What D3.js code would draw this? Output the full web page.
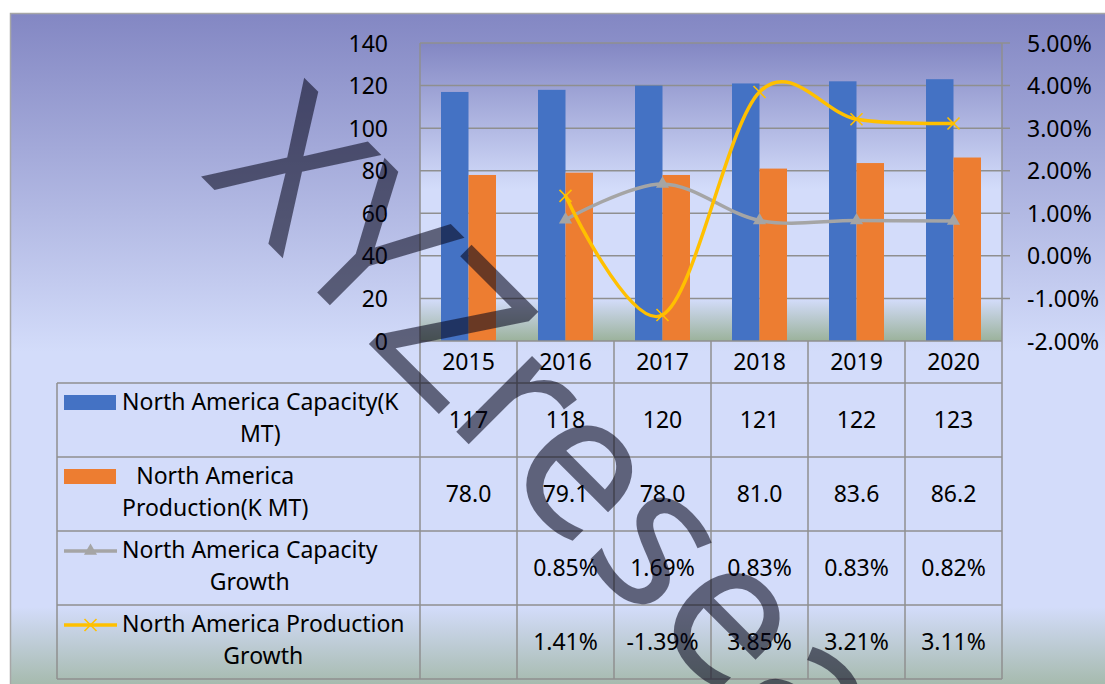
<!DOCTYPE html>
<html>
<head>
<meta charset="utf-8">
<script src="https://cdn.jsdelivr.net/npm/d3@7/dist/d3.min.js"></script>
<style>
  html, body { margin: 0; padding: 0; background: #ffffff; }
  svg { display: block; }
  text { font-family: "Noto Sans", "Open Sans", sans-serif; }
</style>
</head>
<body>
<svg id="chart" width="1105" height="684"></svg>
<script>
// ---------------- DATA ----------------
const years = ["2015", "2016", "2017", "2018", "2019", "2020"];
const capacity = [117, 118, 120, 121, 122, 123];
const production = [78.0, 79.1, 78.0, 81.0, 83.6, 86.2];
const capacityGrowth = [null, 0.0085, 0.0169, 0.0083, 0.0083, 0.0082];
const productionGrowth = [null, 0.0141, -0.0139, 0.0385, 0.0321, 0.0311];
const leftTicks = [0, 20, 40, 60, 80, 100, 120, 140];
const rightTicks = [-0.02, -0.01, 0, 0.01, 0.02, 0.03, 0.04, 0.05];
const seriesLabels = [
  ["North America Capacity(K", "MT)"],
  ["North America", "Production(K MT)"],
  ["North America Capacity", "Growth"],
  ["North America Production", "Growth"]
];
const watermarkText = "XYZresearch";

// ---------------- LAYOUT ----------------
const W = 1105, H = 684;
const plot = { left: 420, right: 1002, top: 43, bottom: 341 };
const tableRows = [383, 457, 531, 605, 679];
const tableLeft = 57;
const FS = 23;
const colors = { cap: "#4472c4", prod: "#ed7d31", capG: "#a5a5a5", prodG: "#ffc000" };
const gridColor = "#8f8f8f";

const svg = d3.select("#chart");
const defs = svg.append("defs");

function addGrad(id) {
  const g = defs.append("linearGradient").attr("id", id)
    .attr("x1", 0).attr("y1", 0).attr("x2", 0).attr("y2", 1);
  [[0, "#8387c3"], [0.49, "#d3dcfa"], [0.86, "#d3dcfa"], [1, "#9bb29b"]]
    .forEach(([o, c]) => g.append("stop").attr("offset", o).attr("stop-color", c));
}
addGrad("outerGrad");
addGrad("plotGrad");

// chart area
svg.append("rect").attr("x", 10.5).attr("y", 13.5).attr("width", 1100).attr("height", 690)
  .attr("fill", "url(#outerGrad)").attr("stroke", "#a6a6a6").attr("stroke-width", 1.5);

// plot area
svg.append("rect").attr("x", plot.left).attr("y", plot.top)
  .attr("width", plot.right - plot.left).attr("height", plot.bottom - plot.top)
  .attr("fill", "url(#plotGrad)");

// scales
const x = d3.scaleBand().domain(years).range([plot.left, plot.right]).paddingInner(0).paddingOuter(0);
const groupW = x.bandwidth() * 0.567;
const x1 = d3.scaleBand().domain(["cap", "prod"]).range([0, groupW]);
const yL = d3.scaleLinear().domain([0, 140]).range([plot.bottom, plot.top]);
const yR = d3.scaleLinear().domain([-0.02, 0.05]).range([plot.bottom, plot.top]);
const cx = d => x(d) + x.bandwidth() / 2;

// gridlines
svg.append("g").selectAll("line").data(leftTicks.filter(t => t > 0)).join("line")
  .attr("x1", plot.left).attr("x2", plot.right + 8)
  .attr("y1", d => yL(d)).attr("y2", d => yL(d))
  .attr("stroke", gridColor).attr("stroke-width", 1.5);

// plot verticals
svg.append("line").attr("x1", plot.left).attr("x2", plot.left).attr("y1", plot.top).attr("y2", plot.bottom)
  .attr("stroke", gridColor).attr("stroke-width", 1.5);
svg.append("line").attr("x1", plot.right).attr("x2", plot.right).attr("y1", plot.top).attr("y2", plot.bottom)
  .attr("stroke", gridColor).attr("stroke-width", 1.5);

// left axis labels
const leftAxis = d3.axisLeft(yL).tickValues(leftTicks).tickSize(0).tickPadding(0).tickFormat(d3.format("d"));
const gL = svg.append("g").attr("transform", `translate(388,0)`).call(leftAxis);
gL.select(".domain").remove();
gL.selectAll("text").attr("font-size", FS).attr("fill", "#000").attr("font-family", "Noto Sans").attr("dy", "0.35em").attr("x", 0);

// right axis labels
const rightAxis = d3.axisRight(yR).tickValues(rightTicks).tickSize(0).tickPadding(0).tickFormat(d3.format(".2%"));
const gR = svg.append("g").attr("transform", `translate(1027,0)`).call(rightAxis);
gR.select(".domain").remove();
gR.selectAll("text").attr("font-size", FS).attr("fill", "#000").attr("font-family", "Noto Sans").attr("dy", "0.35em").attr("x", 0)
  .text(d => d3.format(".2%")(d).replace("−", "-"));

// bars
const barG = svg.append("g");
barG.selectAll("rect.cap").data(years).join("rect").attr("class", "cap")
  .attr("x", (d) => cx(d) - groupW / 2 + x1("cap"))
  .attr("width", x1.bandwidth())
  .attr("y", (d, i) => yL(capacity[i]))
  .attr("height", (d, i) => yL(0) - yL(capacity[i]))
  .attr("fill", colors.cap);
barG.selectAll("rect.prod").data(years).join("rect").attr("class", "prod")
  .attr("x", (d) => cx(d) - groupW / 2 + x1("prod"))
  .attr("width", x1.bandwidth())
  .attr("y", (d, i) => yL(production[i]))
  .attr("height", (d, i) => yL(0) - yL(production[i]))
  .attr("fill", colors.prod);

// lines
const line = d3.line().defined(d => d[1] != null).x(d => cx(d[0])).y(d => yR(d[1])).curve(d3.curveCardinal.tension(0));
const capPts = years.map((y, i) => [y, capacityGrowth[i]]);
const prodPts = years.map((y, i) => [y, productionGrowth[i]]);
svg.append("path").datum(capPts).attr("d", line).attr("fill", "none").attr("stroke", colors.capG).attr("stroke-width", 3.5).attr("stroke-linecap", "round");
svg.append("path").datum(prodPts).attr("d", line).attr("fill", "none").attr("stroke", colors.prodG).attr("stroke-width", 3.5).attr("stroke-linecap", "round");

const tri = d3.symbol().type(d3.symbolTriangle).size(75);
svg.append("g").selectAll("path").data(capPts.filter(d => d[1] != null)).join("path")
  .attr("d", tri).attr("transform", d => `translate(${cx(d[0])},${yR(d[1])})`).attr("fill", colors.capG);
const xs = 6;
const xg = svg.append("g");
prodPts.filter(d => d[1] != null).forEach(d => {
  const px = cx(d[0]), py = yR(d[1]);
  xg.append("path").attr("d", `M${px - xs},${py - xs}L${px + xs},${py + xs}M${px - xs},${py + xs}L${px + xs},${py - xs}`)
    .attr("stroke", colors.prodG).attr("stroke-width", 1.6).attr("fill", "none");
});

// axis line
svg.append("line").attr("x1", plot.left).attr("x2", plot.right).attr("y1", plot.bottom).attr("y2", plot.bottom)
  .attr("stroke", gridColor).attr("stroke-width", 1.5);

// ---------------- DATA TABLE ----------------
const tbl = svg.append("g");
// horizontal lines
tbl.selectAll("line.h").data(tableRows).join("line").attr("class", "h")
  .attr("x1", tableLeft).attr("x2", plot.right).attr("y1", d => d).attr("y2", d => d)
  .attr("stroke", gridColor).attr("stroke-width", 1.5);
// vertical lines at column boundaries
const bounds = years.map(y => x(y)).concat([plot.right]);
tbl.selectAll("line.v").data(bounds).join("line").attr("class", "v")
  .attr("x1", d => d).attr("x2", d => d).attr("y1", plot.bottom).attr("y2", tableRows[4])
  .attr("stroke", gridColor).attr("stroke-width", 1.5);
tbl.append("line").attr("x1", tableLeft).attr("x2", tableLeft).attr("y1", tableRows[0]).attr("y2", tableRows[4])
  .attr("stroke", gridColor).attr("stroke-width", 1.5);

// header years
tbl.selectAll("text.yr").data(years).join("text").attr("class", "yr")
  .attr("x", d => cx(d)).attr("y", 362).attr("dy", "0.35em").attr("text-anchor", "middle")
  .attr("font-size", FS).attr("fill", "#000").text(d => d);

const rowsVals = [
  capacity.map(v => String(v)),
  production.map(v => v.toFixed(1)),
  capacityGrowth.map(v => v == null ? "" : (v * 100).toFixed(2) + "%"),
  productionGrowth.map(v => v == null ? "" : (v * 100).toFixed(2) + "%")
];
rowsVals.forEach((vals, r) => {
  const mid = (tableRows[r] + tableRows[r + 1]) / 2;
  tbl.append("g").selectAll("text").data(years).join("text")
    .attr("x", d => cx(d)).attr("y", mid).attr("dy", "0.35em").attr("text-anchor", "middle")
    .attr("font-size", FS).attr("fill", "#000").text((d, i) => vals[i]);
});

// legend keys
const keyX = 64, keyW = 52;
tbl.append("rect").attr("x", keyX).attr("y", tableRows[0] + 12).attr("width", keyW).attr("height", 15).attr("fill", colors.cap);
tbl.append("rect").attr("x", keyX).attr("y", tableRows[1] + 12).attr("width", keyW).attr("height", 15).attr("fill", colors.prod);
const ly3 = tableRows[2] + 20;
tbl.append("line").attr("x1", keyX).attr("x2", keyX + 53).attr("y1", ly3).attr("y2", ly3).attr("stroke", colors.capG).attr("stroke-width", 3.5);
tbl.append("path").attr("d", tri).attr("transform", `translate(${keyX + 26.5},${ly3})`).attr("fill", colors.capG);
const ly4 = tableRows[3] + 20;
tbl.append("line").attr("x1", keyX).attr("x2", keyX + 53).attr("y1", ly4).attr("y2", ly4).attr("stroke", colors.prodG).attr("stroke-width", 3.5);
tbl.append("path").attr("d", `M${keyX + 26.5 - xs},${ly4 - xs}L${keyX + 26.5 + xs},${ly4 + xs}M${keyX + 26.5 - xs},${ly4 + xs}L${keyX + 26.5 + xs},${ly4 - xs}`)
  .attr("stroke", colors.prodG).attr("stroke-width", 1.6);

// legend labels (lines centred on widest line)
seriesLabels.forEach((lines, r) => {
  const g = tbl.append("g");
  const ts = lines.map((ln, k) => g.append("text").attr("y", tableRows[r] + 19 + k * 32).attr("dy", "0.35em")
    .attr("font-size", FS).attr("fill", "#000").attr("text-anchor", "middle").text(ln));
  const maxW = d3.max(ts, t => t.node().getComputedTextLength());
  ts.forEach(t => t.attr("x", 122 + maxW / 2));
});

// ---------------- WATERMARK ----------------
const wm = svg.append("text").attr("font-size", 200).attr("font-family", "Noto Sans")
  .attr("fill", "#05051a").attr("fill-opacity", 0.57).attr("x", 0).attr("y", 0).text(watermarkText);
const ext = wm.node().getExtentOfChar(4);
const ecx = ext.x + ext.width / 2, ecy = -0.27 * 200;
const ang = 45 * Math.PI / 180;
const rx = ecx * Math.cos(ang) - ecy * Math.sin(ang);
const ry = ecx * Math.sin(ang) + ecy * Math.cos(ang);
wm.attr("transform", `translate(${578 - rx},${477 - ry}) rotate(45)`);
</script>
</body>
</html>
